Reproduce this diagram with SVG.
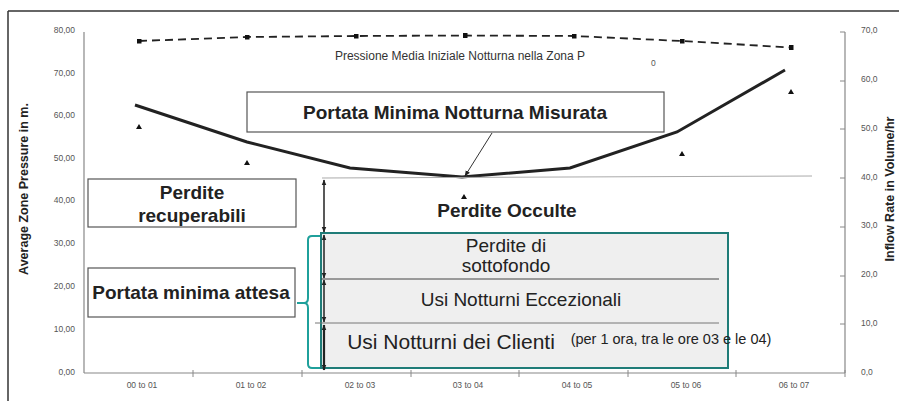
<svg xmlns="http://www.w3.org/2000/svg" width="899" height="401" viewBox="0 0 899 401">
<defs>
<style>
.tick{font-family:"Liberation Sans",Arial,sans-serif;font-size:8.5px;fill:#555}
.cat{font-family:"Liberation Sans",Arial,sans-serif;font-size:8.5px;fill:#555;text-anchor:middle}
.ttl{font-family:"Liberation Sans",Arial,sans-serif;font-size:12.5px;font-weight:bold;fill:#222;text-anchor:middle}
.bold{font-family:"Liberation Sans",Arial,sans-serif;font-size:19px;font-weight:bold;fill:#222;text-anchor:middle}
.reg{font-family:"Liberation Sans",Arial,sans-serif;font-size:19px;fill:#222;text-anchor:middle}
.box{fill:#fff;stroke:#555;stroke-width:1.2}
.axis{stroke:#888;stroke-width:1.2;fill:none}
.dim{stroke:#222;stroke-width:1.5;fill:none;marker-start:url(#ah);marker-end:url(#ah)}
</style>
<marker id="ah" viewBox="0 0 10 10" refX="9" refY="5" markerWidth="6" markerHeight="6" orient="auto-start-reverse" markerUnits="userSpaceOnUse">
<path d="M0,1 L10,5 L0,9 Z" fill="#222"/>
</marker>
<marker id="sq" viewBox="0 0 5 5" refX="2.5" refY="2.5" markerWidth="5" markerHeight="5" markerUnits="userSpaceOnUse">
<rect width="5" height="5" fill="#111"/>
</marker>
</defs>
<g id="frame">
<line x1="8" y1="11" x2="899" y2="11" stroke="#333" stroke-width="1.5"/>
<line x1="8" y1="11" x2="8" y2="401" stroke="#333" stroke-width="1.5"/>
</g>
<g id="axes">
<line class="axis" x1="84" y1="32" x2="84" y2="373"/>
<line class="axis" x1="84" y1="373" x2="845" y2="373" stroke="#666"/>
<line class="axis" x1="845" y1="32" x2="845" y2="373"/>
<g stroke="#888" stroke-width="1">
<line x1="193" y1="370" x2="193" y2="377"/><line x1="302" y1="370" x2="302" y2="377"/><line x1="411" y1="370" x2="411" y2="377"/><line x1="519" y1="370" x2="519" y2="377"/><line x1="628" y1="370" x2="628" y2="377"/><line x1="736" y1="370" x2="736" y2="377"/><line x1="845" y1="370" x2="845" y2="377"/>
<line x1="840" y1="32" x2="845" y2="32"/><line x1="840" y1="81" x2="845" y2="81"/><line x1="840" y1="129" x2="845" y2="129"/><line x1="840" y1="178" x2="845" y2="178"/><line x1="840" y1="227" x2="845" y2="227"/><line x1="840" y1="276" x2="845" y2="276"/><line x1="840" y1="324" x2="845" y2="324"/>
</g>
<g class="tick" text-anchor="end">
<text x="75" y="33">80,00</text><text x="75" y="76">70,00</text><text x="75" y="118">60,00</text><text x="75" y="161">50,00</text><text x="75" y="203">40,00</text><text x="75" y="246">30,00</text><text x="75" y="289">20,00</text><text x="75" y="332">10,00</text><text x="75" y="375">0,00</text>
</g>
<g class="tick">
<text x="861" y="33">70,0</text><text x="861" y="82">60,0</text><text x="861" y="131">50,0</text><text x="861" y="180">40,0</text><text x="861" y="228">30,0</text><text x="861" y="277">20,0</text><text x="861" y="326">10,0</text><text x="861" y="375">0,0</text>
</g>
<g class="cat">
<text x="142" y="388">00 to 01</text><text x="251" y="388">01 to 02</text><text x="360" y="388">02 to 03</text><text x="468" y="388">03 to 04</text><text x="577" y="388">04 to 05</text><text x="686" y="388">05 to 06</text><text x="794" y="388">06 to 07</text>
</g>
<text class="ttl" transform="translate(28,189) rotate(-90)">Average Zone Pressure in m.</text>
<text class="ttl" transform="translate(894,189) rotate(-90)">Inflow Rate in Volume/hr</text>
</g>
<g id="series">
<polyline points="139,41 247,37 356,36 465,35.5 574,36 682,41 791,47.5" fill="none" stroke="#222" stroke-width="1.8" stroke-dasharray="8,5" marker-start="url(#sq)" marker-mid="url(#sq)" marker-end="url(#sq)"/>
<polyline points="135,105 247,142 350,168 462,177 570,168 677,132 785,70" fill="none" stroke="#222" stroke-width="3"/>
<g fill="#111">
<path d="M139,124 l3,5 h-6 Z"/><path d="M247,160 l3,5 h-6 Z"/><path d="M464,194 l3,5 h-6 Z"/><path d="M682,151 l3,5 h-6 Z"/><path d="M791,89 l3,5 h-6 Z"/>
</g>
<text x="651" y="66" class="tick" fill="#555">0</text>
<text x="460" y="60" font-family="Liberation Sans,Arial,sans-serif" font-size="12" fill="#333" text-anchor="middle">Pressione Media Iniziale Notturna nella Zona P</text>
<line x1="322" y1="178" x2="812" y2="176" stroke="#aaa" stroke-width="1"/>
</g>
<g id="node-misurata">
<rect class="box" x="247" y="92" width="417" height="40"/>
<text class="bold" x="455" y="119">Portata Minima Notturna Misurata</text>
</g>
<g id="node-recuperabili">
<rect class="box" x="88" y="179" width="208" height="48"/>
<text class="bold" x="192" y="199">Perdite</text>
<text class="bold" x="192" y="222">recuperabili</text>
</g>
<g id="node-attesa">
<rect class="box" x="88" y="268" width="207" height="49"/>
<text class="bold" x="191" y="299">Portata minima attesa</text>
</g>
<g id="node-occulte">
<text class="bold" x="507" y="217">Perdite Occulte</text>
</g>
<g id="node-components">
<rect x="321" y="233" width="407" height="135" fill="#efefef" stroke="#1f7c78" stroke-width="2"/>
<line x1="321" y1="279" x2="719" y2="279" stroke="#444" stroke-width="1"/>
<line x1="315" y1="323" x2="719" y2="323" stroke="#777" stroke-width="1"/>
<text class="reg" x="506" y="252">Perdite di</text>
<text class="reg" x="506" y="272">sottofondo</text>
<text class="reg" x="521" y="306">Usi Notturni Eccezionali</text>
<text class="reg" x="451" y="349" style="font-size:21px">Usi Notturni dei Clienti</text>
<text x="671" y="344" font-family="Liberation Sans,Arial,sans-serif" font-size="14.5" fill="#222" text-anchor="middle">(per 1 ora, tra le ore 03 e le 04)</text>
</g>
<g id="bracket">
<path d="M320,236 H312 Q308,236 308,240 V298 Q308,303 304,303 H297 M304,303 Q308,303 308,308 V364 Q308,368 312,368 H320" fill="none" stroke="#1fa09b" stroke-width="2"/>
</g>
<g id="connectors">
<line x1="492" y1="133" x2="465" y2="176" stroke="#333" stroke-width="1" marker-end="url(#ah)"/>
<line class="dim" x1="324" y1="180" x2="324" y2="232"/>
<line class="dim" x1="324" y1="235" x2="324" y2="278"/>
<line class="dim" x1="324" y1="280" x2="324" y2="322"/>
<line class="dim" x1="324" y1="325" x2="324" y2="370" style="stroke-width:2.2px"/>
</g>
</svg>
